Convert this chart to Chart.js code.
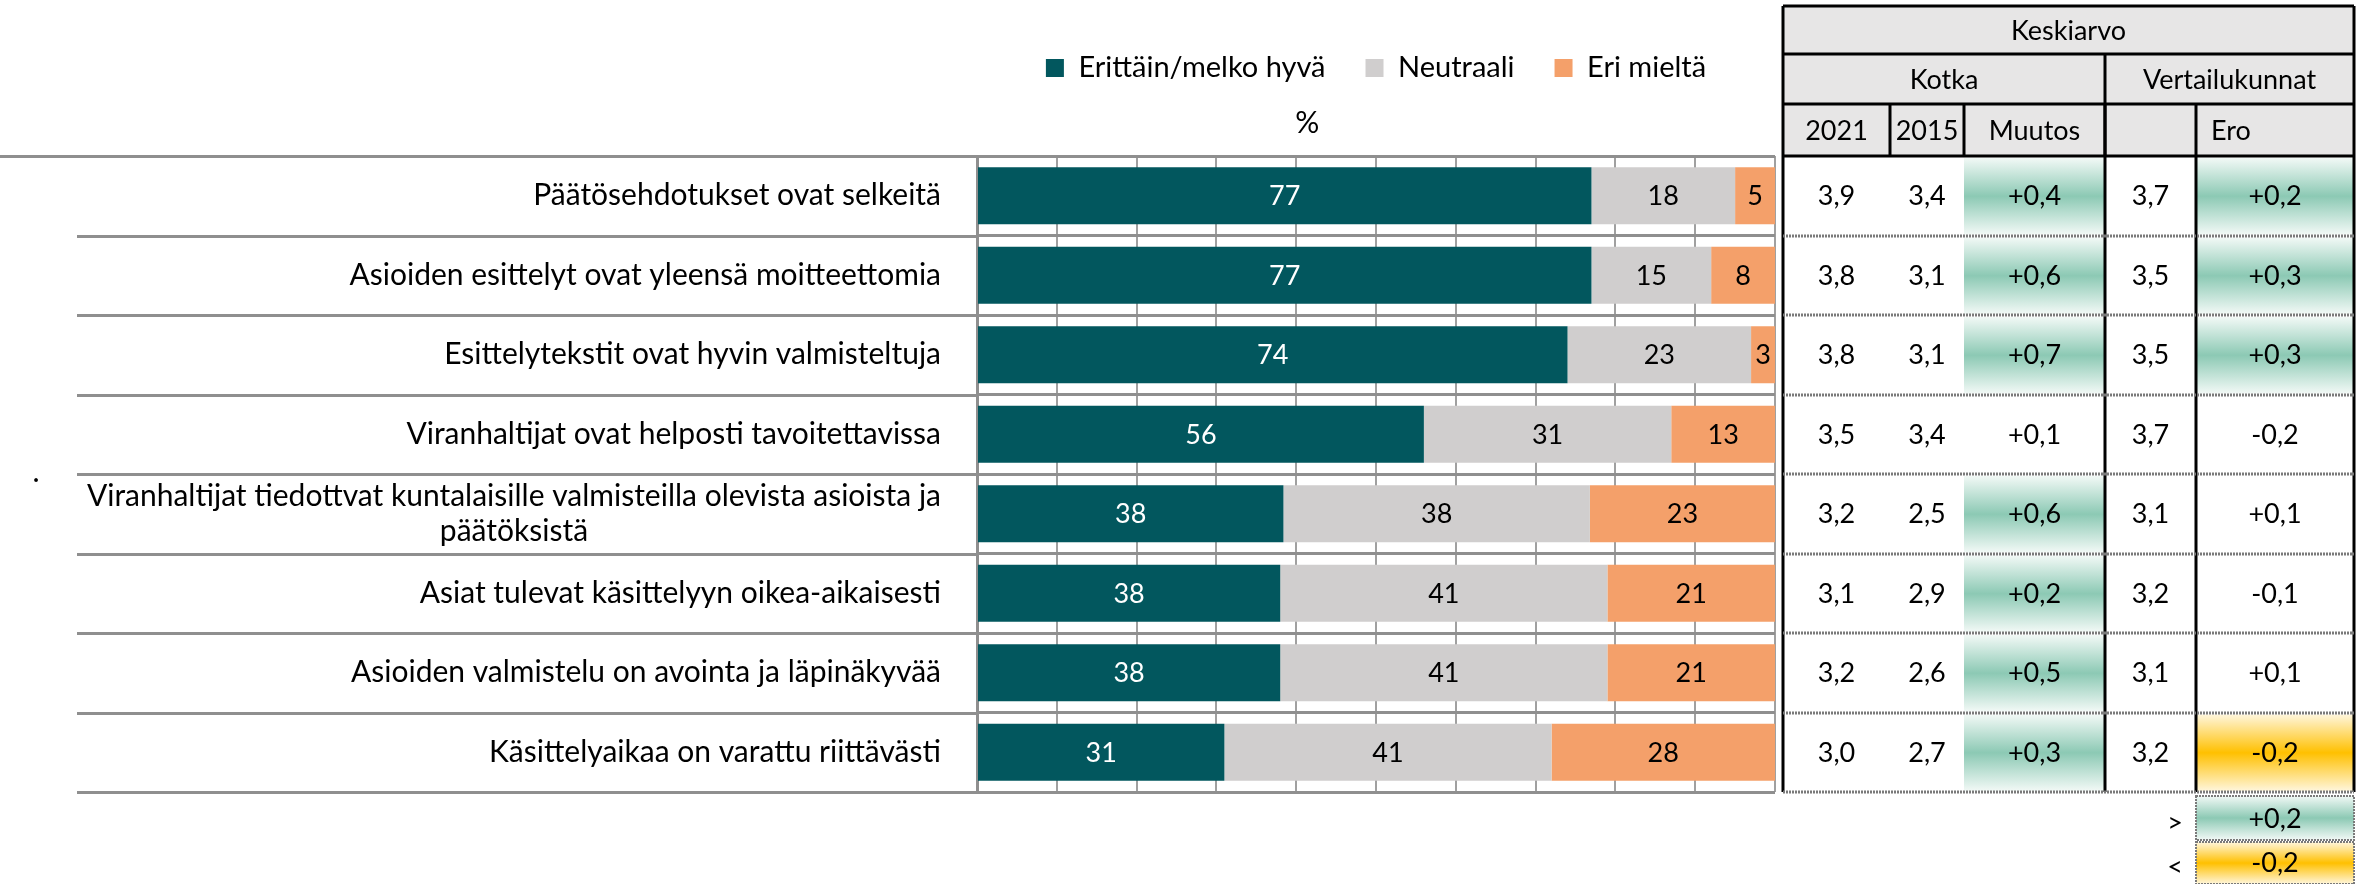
<!DOCTYPE html>
<html>
<head>
<meta charset="utf-8">
<script src="https://cdn.jsdelivr.net/npm/chart.js@4.4.0/dist/chart.umd.min.js"></script>
<style>
  html, body { margin: 0; padding: 0; background: #fff; }
  #wrap { position: relative; width: 2377px; height: 884px; }
</style>
</head>
<body>
<div id="wrap"><canvas id="chart"></canvas></div>
<script>
// rivit (väittämät)
const statements = [
  'Päätösehdotukset ovat selkeitä',
  'Asioiden esittelyt ovat yleensä moitteettomia',
  'Esittelytekstit ovat hyvin valmisteltuja',
  'Viranhaltijat ovat helposti tavoitettavissa',
  ['Viranhaltijat tiedottvat kuntalaisille valmisteilla olevista asioista ja', 'päätöksistä'],
  'Asiat tulevat käsittelyyn oikea-aikaisesti',
  'Asioiden valmistelu on avointa ja läpinäkyvää',
  'Käsittelyaikaa on varattu riittävästi'
];

// jakaumat, %
const seriesNames = ['Erittäin/melko hyvä', 'Neutraali', 'Eri mieltä'];
const goodShare    = [77, 77, 74, 56, 38.4, 38, 38, 31];
const neutralShare = [18, 15, 23, 31, 38.4, 41, 41, 41];
const badShare     = [5, 8, 3, 13, 23.2, 21, 21, 28];

// keskiarvotaulukko
const kotka2021  = [3.9, 3.8, 3.8, 3.5, 3.2, 3.1, 3.2, 3.0];
const kotka2015  = [3.4, 3.1, 3.1, 3.4, 2.5, 2.9, 2.6, 2.7];
const change     = [0.4, 0.6, 0.7, 0.1, 0.6, 0.2, 0.5, 0.3];
const comparison = [3.7, 3.5, 3.5, 3.7, 3.1, 3.2, 3.1, 3.2];
const difference = [0.2, 0.3, 0.3, -0.2, 0.1, -0.1, 0.1, -0.2];
const changeMark     = ['g', 'g', 'g', '', 'g', 'g', 'g', 'g'];
const differenceMark = ['g', 'g', 'g', '', '', '', '', 'y'];
const markLimits = [0.2, -0.2];

const tableTitle = 'Keskiarvo';
const tableGroups = ['Kotka', 'Vertailukunnat'];
const tableColumns = ['2021', '2015', 'Muutos', '', 'Ero'];

const colors = ['#02575E', '#D0CECE', '#F4A06A'];
const FONT = 'Lato, "Open Sans", sans-serif';
const FS = 27;        // taulukko ja palkkien arvot
const LABEL_FS = 30;  // väittämät
const LEGEND_FS = 29;
const gridGrey = '#8f8f8f';

Chart.defaults.font.family = FONT;
Chart.defaults.font.size = FS;
Chart.defaults.color = '#000';

function fmt(v, signed) {
  const s = Math.abs(v).toFixed(1).replace('.', ',');
  if (!signed) return s;
  return (v < 0 ? '-' : '+') + s;
}

function fillGradient(ctx, x, y, w, h, mid, edge) {
  const g = ctx.createLinearGradient(0, y, 0, y + h);
  g.addColorStop(0, edge);
  g.addColorStop(0.5, mid);
  g.addColorStop(1, edge);
  ctx.fillStyle = g;
  ctx.fillRect(x, y, w, h);
}

const markColors = {
  g: ['#8cc9b4', '#f2f9f6'],
  y: ['#ffc000', '#fff6dc']
};

const extras = {
  id: 'extras',
  beforeDatasetsDraw(chart) {
    // rivien erotinviivat jatkuvat vasemmalle tekstien alle
    const { ctx, chartArea: a } = chart;
    const rowH = (a.bottom - a.top) / statements.length;
    ctx.save();
    ctx.strokeStyle = gridGrey;
    ctx.lineWidth = 3;
    for (let i = 0; i <= statements.length; i++) {
      const yy = Math.round(a.top + i * rowH) + 0.5;
      ctx.beginPath();
      ctx.moveTo(i === 0 ? 0 : 77, yy);
      ctx.lineTo(a.left, yy);
      ctx.stroke();
    }
    ctx.restore();
  },
  afterDatasetsDraw(chart) {
    // arvot palkkien sisään
    const { ctx } = chart;
    ctx.save();
    ctx.font = `${FS}px ${FONT}`;
    ctx.textAlign = 'center';
    ctx.textBaseline = 'middle';
    chart.data.datasets.forEach((ds, i) => {
      const meta = chart.getDatasetMeta(i);
      ctx.fillStyle = i === 0 ? '#fff' : '#000';
      meta.data.forEach((bar, j) => {
        const v = ds.data[j];
        if (!v) return;
        ctx.fillText(String(Math.round(v)), (bar.x + bar.base) / 2, bar.y + 1);
      });
    });
    ctx.restore();
  },
  afterDraw(chart) {
    const { ctx, chartArea: a, scales: { y } } = chart;
    const rowH = (a.bottom - a.top) / statements.length;
    ctx.save();
    ctx.fillStyle = '#000';
    ctx.textBaseline = 'middle';

    // väittämät
    ctx.font = `${LABEL_FS}px ${FONT}`;
    const labelRight = 941;
    statements.forEach((lab, i) => {
      const cy = y.getPixelForValue(i);
      if (!Array.isArray(lab)) {
        ctx.textAlign = 'right';
        ctx.fillText(lab, labelRight, cy);
      } else {
        const w = Math.max(...lab.map(l => ctx.measureText(l).width));
        ctx.textAlign = 'center';
        lab.forEach((l, k) => ctx.fillText(l, labelRight - w / 2, cy + (k - (lab.length - 1) / 2) * 35));
      }
    });
    ctx.textAlign = 'center';
    ctx.fillText('%', a.left + 0.414 * (a.right - a.left), 123);
    ctx.fillText('.', 36, 472);

    // keskiarvotaulukko
    ctx.font = `${FS}px ${FONT}`;
    const c = [1783, 1890, 1964, 2105, 2196, 2354];
    const hy = [6, 54, 104, Math.round(a.top)];
    ctx.fillStyle = '#e7e6e6';
    ctx.fillRect(c[0], hy[0], c[5] - c[0], hy[3] - hy[0]);

    // solujen korostukset
    for (let i = 0; i < statements.length; i++) {
      const y0 = a.top + i * rowH;
      if (changeMark[i]) {
        const m = markColors[changeMark[i]];
        fillGradient(ctx, c[2], y0 + 2, c[3] - c[2], rowH - 3, m[0], m[1]);
      }
      if (differenceMark[i]) {
        const m = markColors[differenceMark[i]];
        fillGradient(ctx, c[4], y0 + 2, c[5] - c[4], rowH - 3, m[0], m[1]);
      }
    }
    // selitteen solut
    const ly = [a.bottom + 4, a.bottom + 50, a.bottom + 92];
    fillGradient(ctx, c[4], ly[0], c[5] - c[4], ly[1] - ly[0] - 2, markColors.g[0], markColors.g[1]);
    fillGradient(ctx, c[4], ly[1], c[5] - c[4], ly[2] - ly[1], markColors.y[0], markColors.y[1]);

    // otsikkotekstit
    ctx.fillStyle = '#000';
    ctx.textAlign = 'center';
    ctx.fillText(tableTitle, (c[0] + c[5]) / 2, (hy[0] + hy[1]) / 2 + 1);
    ctx.fillText(tableGroups[0], (c[0] + c[3]) / 2, (hy[1] + hy[2]) / 2 + 1);
    ctx.fillText(tableGroups[1], (c[3] + c[5]) / 2, (hy[1] + hy[2]) / 2 + 1);
    tableColumns.forEach((t, k) => {
      if (!t) return;
      const yy = (hy[2] + hy[3]) / 2 + 1;
      if (k === 4) { ctx.textAlign = 'left'; ctx.fillText(t, c[4] + 15, yy); ctx.textAlign = 'center'; }
      else ctx.fillText(t, (c[k] + c[k + 1]) / 2, yy);
    });

    // arvot
    for (let i = 0; i < statements.length; i++) {
      const cy = y.getPixelForValue(i) + 1;
      ctx.fillText(fmt(kotka2021[i]), (c[0] + c[1]) / 2, cy);
      ctx.fillText(fmt(kotka2015[i]), (c[1] + c[2]) / 2, cy);
      ctx.fillText(fmt(change[i], true), (c[2] + c[3]) / 2, cy);
      ctx.fillText(fmt(comparison[i]), (c[3] + c[4]) / 2, cy);
      ctx.fillText(fmt(difference[i], true), (c[4] + c[5]) / 2, cy);
    }
    ctx.fillText(fmt(markLimits[0], true), (c[4] + c[5]) / 2, (ly[0] + ly[1]) / 2);
    ctx.fillText(fmt(markLimits[1], true), (c[4] + c[5]) / 2, (ly[1] + ly[2]) / 2);
    ctx.fillText('>', 2175, (ly[0] + ly[1]) / 2 + 4);
    ctx.fillText('<', 2175, (ly[1] + ly[2]) / 2 + 4);

    // viivat: otsikko
    ctx.strokeStyle = '#000';
    ctx.lineWidth = 3;
    const line = (x1, y1, x2, y2) => { ctx.beginPath(); ctx.moveTo(x1, y1); ctx.lineTo(x2, y2); ctx.stroke(); };
    line(c[0], hy[0], c[5], hy[0]);
    line(c[0], hy[1], c[5], hy[1]);
    line(c[0], hy[2], c[5], hy[2]);
    line(c[0], hy[3], c[5], hy[3]);
    line(c[3], hy[1], c[3], hy[3]);
    [1, 2, 3, 4].forEach(k => line(c[k], hy[2], c[k], hy[3]));
    // pystyviivat koko taulukon läpi
    [0, 5].forEach(k => line(c[k], hy[0], c[k], a.bottom));
    [3, 4].forEach(k => line(c[k], hy[3], c[k], a.bottom));

    // pisteviivat rivien välissä
    ctx.strokeStyle = '#7a7a7a';
    ctx.setLineDash([2, 1]);
    for (let i = 1; i <= statements.length; i++) {
      const yy = Math.round(a.top + i * rowH);
      line(c[0], yy, c[5], yy);
    }
    ctx.lineWidth = 2;
    ctx.strokeRect(c[4], ly[0], c[5] - c[4], ly[1] - ly[0] - 2);
    ctx.strokeRect(c[4], ly[1], c[5] - c[4], ly[2] - ly[1]);
    ctx.restore();
  }
};

new Chart(document.getElementById('chart'), {
  type: 'bar',
  data: {
    labels: statements,
    datasets: [
      { label: seriesNames[0], data: goodShare, backgroundColor: colors[0] },
      { label: seriesNames[1], data: neutralShare, backgroundColor: colors[1] },
      { label: seriesNames[2], data: badShare, backgroundColor: colors[2] }
    ]
  },
  options: {
    indexAxis: 'y',
    responsive: true,
    maintainAspectRatio: false,
    animation: false,
    devicePixelRatio: 1,
    categoryPercentage: 0.72,
    barPercentage: 1,
    layout: { padding: { top: 13.5, left: 977, right: 602, bottom: 92 } },
    plugins: {
      legend: {
        position: 'top',
        labels: { boxWidth: 18, boxHeight: 18, padding: 40, font: { size: LEGEND_FS }, color: '#000' }
      },
      title: { display: false },
      tooltip: { enabled: false }
    },
    scales: {
      x: {
        position: 'top',
        stacked: true,
        min: 0,
        max: 100,
        ticks: { display: false, stepSize: 10 },
        grid: { color: '#a0a0a0', lineWidth: 2, drawTicks: false },
        border: { display: false },
        afterFit: s => { s.height = 63.5; }
      },
      y: {
        stacked: true,
        ticks: { display: false },
        grid: { color: gridGrey, lineWidth: 3, drawTicks: false, offset: true },
        border: { color: gridGrey, width: 3 },
        afterFit: s => { s.width = 0; }
      }
    }
  },
  plugins: [extras]
});
</script>
</body>
</html>
